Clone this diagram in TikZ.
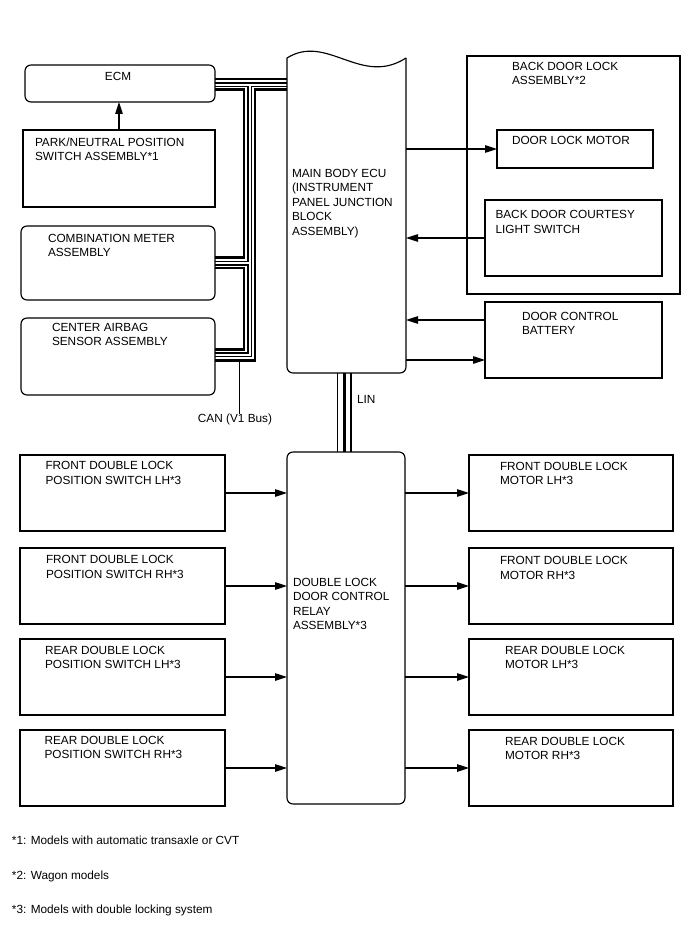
\documentclass[tikz,border=0pt]{standalone}
\usepackage{fontspec}
\setmainfont{Liberation Sans}
\usetikzlibrary{arrows.meta,calc,positioning}

\begin{document}
\begin{tikzpicture}[x=1pt,y=-1pt,
    every node/.style={font=\fontsize{11.8}{14.5}\selectfont, inner sep=0pt, outer sep=0pt},
    box/.style={draw, line width=1.15pt, anchor=north west},
    rbox/.style={box, rounded corners=6pt},
    txt/.style={anchor=north west, align=left},
    arr/.style={line width=1.1pt, -{Triangle[length=12pt,width=7.5pt]}},
    canthick/.style={line width=2.6pt},
    canthin/.style={line width=1.1pt}]
    \useasboundingbox (0,0) rectangle (688,949);
    % upper part
    \node[rbox, minimum width=190pt, minimum height=37pt] (ecm) at (25,65) {};
    \node[box, minimum width=192pt, minimum height=77pt] (pn) at (23,130) {};
    \node[rbox, minimum width=194pt, minimum height=74pt] (comb) at (21,226) {};
    \node[rbox, minimum width=194pt, minimum height=77pt] (bag) at (21,318) {};
    \node[anchor=north west, minimum width=119pt, minimum height=315pt] (ecu) at (287,58) {};
    \node[box, minimum width=213pt, minimum height=238pt] (bdl) at (467,56) {};
    \node[box, minimum width=156pt, minimum height=38pt] (dlm) at (497,130) {};
    \node[box, minimum width=177pt, minimum height=76pt] (cts) at (485,200) {};
    \node[box, minimum width=177pt, minimum height=76pt] (bat) at (485,302) {};
    \draw[line width=1.15pt] (ecu.north west) .. controls +(40,-25) and +(-45,29) .. (ecu.north east);
    \draw[line width=1.15pt, rounded corners=6pt] (ecu.north east) -- (ecu.south east) -- (ecu.south west) -- (ecu.north west);

    \node[anchor=north] (ecmtxt) at (118,72) {ECM};
    \node[txt] (pntxt) at (35,137.5) {PARK/NEUTRAL POSITION\\SWITCH ASSEMBLY*1};
    \node[txt] (combtxt) at (48,234) {COMBINATION METER\\ASSEMBLY};
    \node[txt] (bagtxt) at (52,323) {CENTER AIRBAG\\SENSOR ASSEMBLY};
    \node[txt] (ecutxt) at (292,169) {MAIN BODY ECU\\(INSTRUMENT\\PANEL JUNCTION\\BLOCK\\ASSEMBLY)};
    \node[txt] (bdltxt) at (512,62) {BACK DOOR LOCK\\ASSEMBLY*2};
    \node[txt] (dlmtxt) at (512,136) {DOOR LOCK MOTOR};
    \node[txt] (ctstxt) at (495.5,210.5) {BACK DOOR COURTESY\\LIGHT SWITCH};
    \node[txt] (battxt) at (522,312) {DOOR CONTROL\\BATTERY};

    \draw[arr] (pn.north) -- (pn.north |- ecm.south);
    \draw[arr] (ecu.east |- dlm.west) -- (dlm.west);
    \draw[arr] (cts.west) -- (ecu.east |- cts.west);
    \coordinate (bat1) at ($(bat.west)+(0,-20)$);
    \coordinate (bat2) at ($(bat.west)+(0,20)$);
    \draw[arr] (bat1) -- (ecu.east |- bat1);
    \draw[arr] (ecu.east |- bat2) -- (bat2);

    % CAN bus
    \coordinate (e1) at ($(ecm.east)+(0,-4.5)$);
    \coordinate (e2) at ($(ecm.east)+(0,-0.5)$);
    \coordinate (e3) at ($(ecm.east)+(0,3)$);
    \coordinate (e4) at ($(ecm.east)+(0,6)$);
    \coordinate (m1) at ($(comb.east)+(0,-5.5)$);
    \coordinate (m2) at ($(comb.east)+(0,-1.5)$);
    \coordinate (m3) at ($(comb.east)+(0,2)$);
    \coordinate (m4) at ($(comb.east)+(0,5)$);
    \coordinate (a1) at ($(bag.east)+(0,-7)$);
    \coordinate (a2) at ($(bag.east)+(0,-3.5)$);
    \coordinate (a3) at ($(bag.east)+(0,0)$);
    \coordinate (a4) at ($(bag.east)+(0,4)$);
    \coordinate (ca) at (244,0);
    \coordinate (cb) at (248,0);
    \coordinate (cc) at (251.5,0);
    \coordinate (cd) at (255,0);
    \draw[canthick] (e1) -- (e1 -| ecu.west);
    \draw[canthin] (e2) -- (e2 -| ecu.west);
    \draw[canthin] (e3) -| (cb |- m2) -- (m2);
    \draw[canthick] (e4) -| (ca |- m1) -- (m1);
    \draw[canthin] (m3) -| (cb |- a2) -- (a2);
    \draw[canthick] (m4) -| (ca |- a1) -- (a1);
    \draw[canthin] (a3) -| (cc |- e3) -- (e3 -| ecu.west);
    \draw[canthick] (a4) -| (cd |- e4) -- (e4 -| ecu.west);
    \node[anchor=north] (cantxt) at (235,413.5) {CAN (V1 Bus)};
    \coordinate (canpt) at ($(a4)+(24,0)$);
    \draw[line width=1pt] (canpt) -- (canpt |- cantxt.north);

    % lower part
    \node[rbox, minimum width=118pt, minimum height=352pt] (relay) at (287,452) {};
    \node[box, minimum width=205pt, minimum height=76pt] (fsl) at (20,455) {};
    \node[box, minimum width=205pt, minimum height=76pt] (fsr) at (20,548) {};
    \node[box, minimum width=205pt, minimum height=76pt] (rsl) at (20,639) {};
    \node[box, minimum width=205pt, minimum height=76pt] (rsr) at (20,730) {};
    \node[box, minimum width=204pt, minimum height=76pt] (fml) at (469,455) {};
    \node[box, minimum width=204pt, minimum height=76pt] (fmr) at (469,548) {};
    \node[box, minimum width=204pt, minimum height=76pt] (rml) at (469,639) {};
    \node[box, minimum width=204pt, minimum height=76pt] (rmr) at (469,730) {};

    \coordinate (lin1) at ($(relay.north)+(-8.5,0)$);
    \coordinate (lin2) at ($(relay.north)+(-1.5,0)$);
    \coordinate (lin3) at ($(relay.north)+(5,0)$);
    \draw[line width=1.1pt] (lin1) -- (lin1 |- ecu.south);
    \draw[line width=3pt] (lin2) -- (lin2 |- ecu.south);
    \draw[line width=1.5pt] (lin3) -- (lin3 |- ecu.south);
    \node[txt] (lintxt) at (357,395) {LIN};

    \node[txt] (relaytxt) at (293,578) {DOUBLE LOCK\\DOOR CONTROL\\RELAY\\ASSEMBLY*3};
    \node[txt] (fsltxt) at (45.5,461.5) {FRONT DOUBLE LOCK\\POSITION SWITCH LH*3};
    \node[txt] (fsrtxt) at (46,555.5) {FRONT DOUBLE LOCK\\POSITION SWITCH RH*3};
    \node[txt] (rsltxt) at (45,646) {REAR DOUBLE LOCK\\POSITION SWITCH LH*3};
    \node[txt] (rsrtxt) at (44.5,736) {REAR DOUBLE LOCK\\POSITION SWITCH RH*3};
    \node[txt] (fmltxt) at (500,462) {FRONT DOUBLE LOCK\\MOTOR LH*3};
    \node[txt] (fmrtxt) at (500,556.5) {FRONT DOUBLE LOCK\\MOTOR RH*3};
    \node[txt] (rmltxt) at (505,646) {REAR DOUBLE LOCK\\MOTOR LH*3};
    \node[txt] (rmrtxt) at (505,737) {REAR DOUBLE LOCK\\MOTOR RH*3};

    \draw[arr] (fsl.east) -- (relay.west |- fsl.east);
    \draw[arr] (fsr.east) -- (relay.west |- fsr.east);
    \draw[arr] (rsl.east) -- (relay.west |- rsl.east);
    \draw[arr] (rsr.east) -- (relay.west |- rsr.east);
    \draw[arr] (relay.east |- fml.west) -- (fml.west);
    \draw[arr] (relay.east |- fmr.west) -- (fmr.west);
    \draw[arr] (relay.east |- rml.west) -- (rml.west);
    \draw[arr] (relay.east |- rmr.west) -- (rmr.west);

    % notes
    \node[txt] (note1) at (12,835.5) {*1: Models with automatic transaxle or CVT};
    \node[txt] (note2) at (12,871) {*2: Wagon models};
    \node[txt] (note3) at (12,904.5) {*3: Models with double locking system};
\end{tikzpicture}
\end{document}
